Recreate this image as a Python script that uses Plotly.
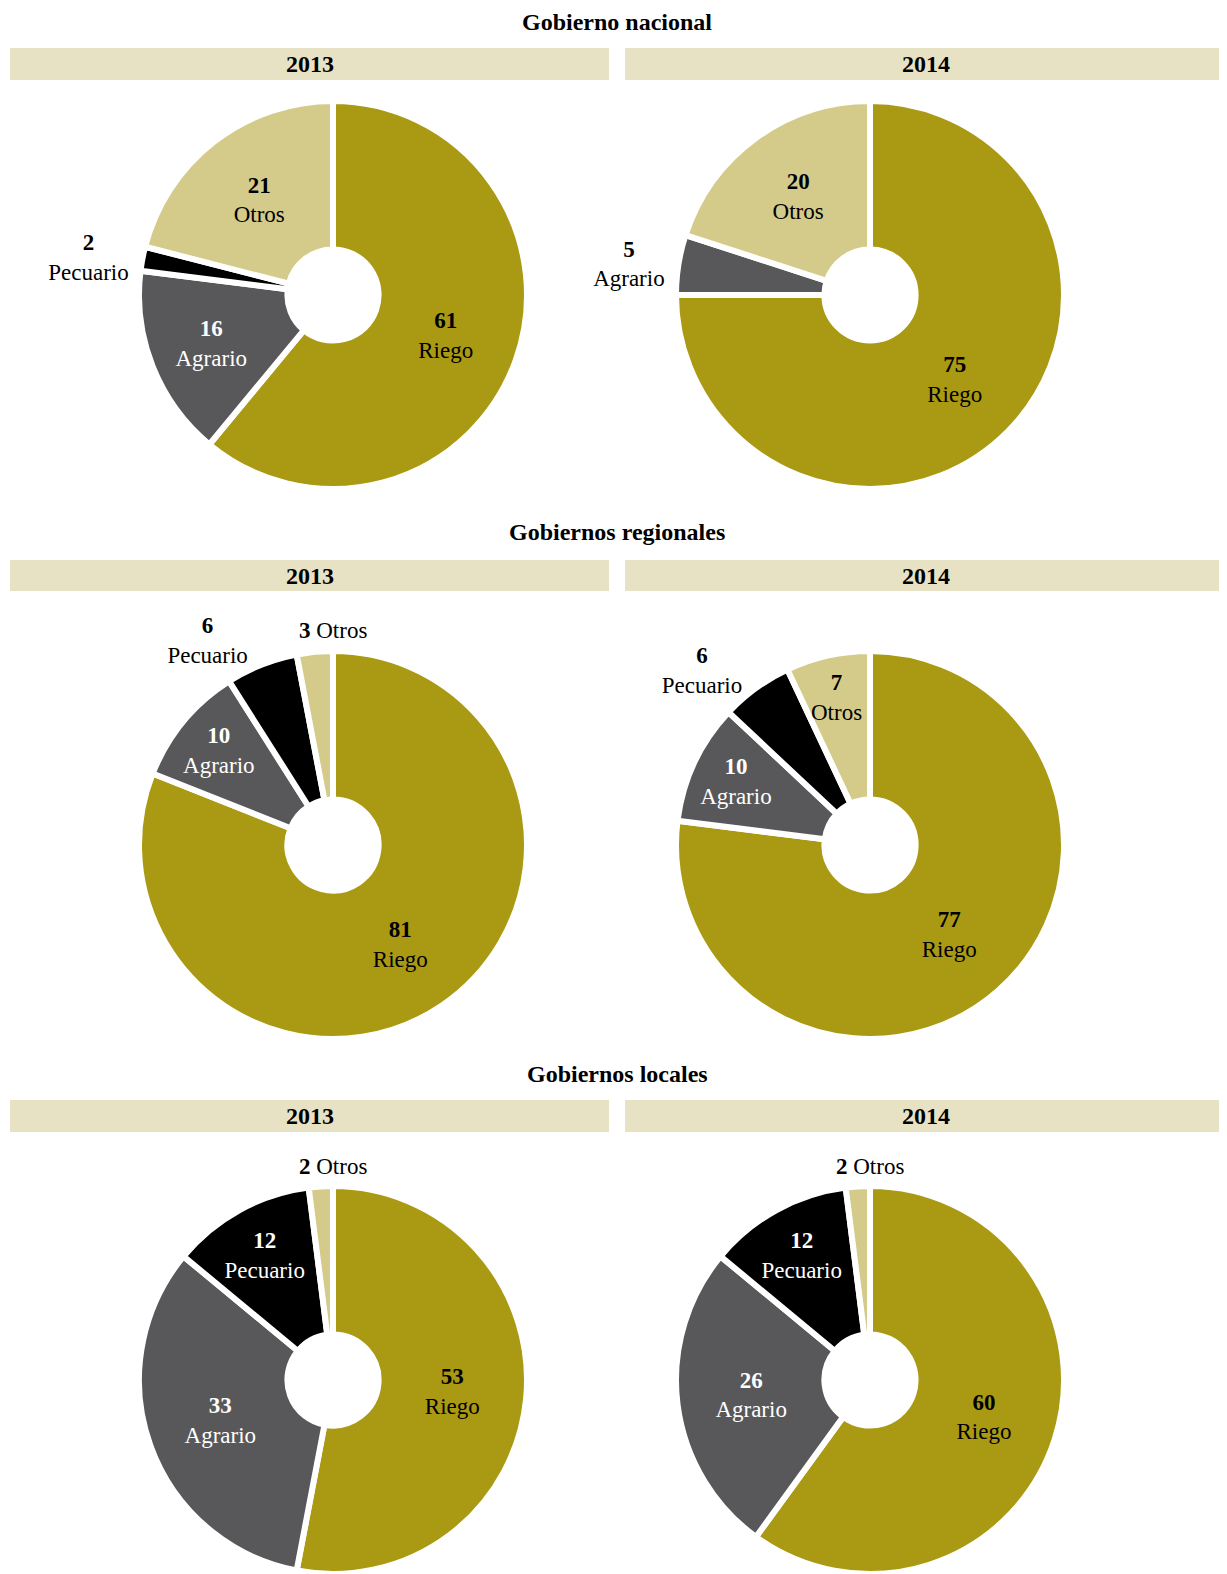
import math
import plotly.graph_objects as go

# ---- data ----
sections = ["Gobierno nacional", "Gobiernos regionales", "Gobiernos locales"]
years = ["2013", "2014"]
categories = ["Riego", "Agrario", "Pecuario", "Otros"]
nacional_2013 = [61, 16, 2, 21]
nacional_2014 = [75, 5, 0, 20]
regionales_2013 = [81, 10, 6, 3]
regionales_2014 = [77, 10, 6, 7]
locales_2013 = [53, 33, 12, 2]
locales_2014 = [60, 26, 12, 2]

# ---- styles ----
colors = {"Riego": "#AA9913", "Agrario": "#58585A", "Pecuario": "#000000", "Otros": "#D4CB8A"}
inside_font_colors = {"Riego": "#000000", "Agrario": "#FFFFFF", "Pecuario": "#FFFFFF", "Otros": "#000000"}
band_color = "#E8E2C4"
FONT = "Liberation Serif"
FS = 23
OFF = 8  # default page body margin
W, H = 1227 - OFF, 1574 - OFF

grid = [
    [nacional_2013, nacional_2014],
    [regionales_2013, regionales_2014],
    [locales_2013, locales_2014],
]

centers_x = [333, 870]
centers_y = [295, 845, 1380]
R = 194
HOLE = 0.235
LABEL_R = 0.78      # radial position (fraction of R) for narrow inside labels
TOP_LABEL_GAP = 20  # distance above the pie for one-line outside labels
title_y = [22, 532, 1074]
band_y = [(48, 80), (560, 591), (1100, 1132)]
band_x = [(10, 609), (625, 1226)]
title_x = 617


def px_x(x):
    return min(1.0, max(0.0, (x - OFF) / W))


def px_y(y):
    return min(1.0, max(0.0, 1 - (y - OFF) / H))


fig = go.Figure()
annotations = []

for i, row in enumerate(grid):
    for j, vals in enumerate(row):
        cx, cy = centers_x[j], centers_y[i]
        total = sum(vals)
        labs, vs, cols, tpos, ttext, tcol = [], [], [], [], [], []
        cum = 0
        for c, v in zip(categories, vals):
            if not v:
                continue
            mid = (cum + v / 2) / total * 2 * math.pi
            cum += v
            labs.append(c)
            vs.append(v)
            cols.append(colors[c])
            outside = v <= 6
            if outside and c == "Otros":
                # one-line label centred above the pie
                tpos.append("none")
                ttext.append("")
                tcol.append("#000000")
                annotations.append(dict(text=f"<b>{v}</b> {c}", x=px_x(cx), y=px_y(cy - R - TOP_LABEL_GAP),
                                        xref="paper", yref="paper", showarrow=False,
                                        font=dict(family=FONT, size=FS, color="#000000"),
                                        xanchor="center", yanchor="middle"))
            elif not outside and v < 10:
                # narrow slice: label at full size, not shrunk to fit
                tpos.append("none")
                ttext.append("")
                tcol.append(inside_font_colors[c])
                lx = cx + LABEL_R * R * math.sin(mid)
                ly = cy - LABEL_R * R * math.cos(mid)
                annotations.append(dict(text=f"<b>{v}</b><br>{c}", x=px_x(lx), y=px_y(ly),
                                        xref="paper", yref="paper", showarrow=False,
                                        font=dict(family=FONT, size=FS, color=inside_font_colors[c]),
                                        xanchor="center", yanchor="middle"))
            else:
                tpos.append("outside" if outside else "inside")
                ttext.append(f"<b>{v}</b><br>{c}")
                tcol.append("#000000" if outside else inside_font_colors[c])
        dom = dict(x=[px_x(cx - R), px_x(cx + R)], y=[px_y(cy + R), px_y(cy - R)])
        fig.add_trace(go.Pie(
            labels=labs, values=vs, sort=False, direction="clockwise", rotation=0,
            hole=HOLE,
            marker=dict(colors=cols, line=dict(color="white", width=6)),
            text=ttext, textinfo="text", textposition=tpos,
            insidetextorientation="horizontal",
            insidetextfont=dict(family=FONT, size=FS, color=tcol),
            outsidetextfont=dict(family=FONT, size=FS, color="#000000"),
            hoverinfo="label+value",
            showlegend=False,
            domain=dom,
        ))

shapes = []
for i, sec in enumerate(sections):
    annotations.append(dict(text=f"<b>{sec}</b>", x=px_x(title_x), y=px_y(title_y[i]), xref="paper", yref="paper",
                            showarrow=False, font=dict(family=FONT, size=24, color="#000000"),
                            xanchor="center", yanchor="middle"))
    y0, y1 = band_y[i]
    for j, yr in enumerate(years):
        x0, x1 = band_x[j]
        shapes.append(dict(type="rect", xref="paper", yref="paper", x0=px_x(x0), x1=px_x(x1),
                           y0=px_y(y1), y1=px_y(y0), fillcolor=band_color, line=dict(width=0), layer="below"))
        annotations.append(dict(text=f"<b>{yr}</b>", x=px_x((x0 + x1) / 2), y=px_y((y0 + y1) / 2),
                                xref="paper", yref="paper", showarrow=False,
                                font=dict(family=FONT, size=24, color="#000000"),
                                xanchor="center", yanchor="middle"))

fig.update_layout(
    width=W, height=H, margin=dict(l=0, r=0, t=0, b=0),
    paper_bgcolor="white", plot_bgcolor="white",
    shapes=shapes, annotations=annotations,
    font=dict(family=FONT),
)

fig.write_html("out.html")
